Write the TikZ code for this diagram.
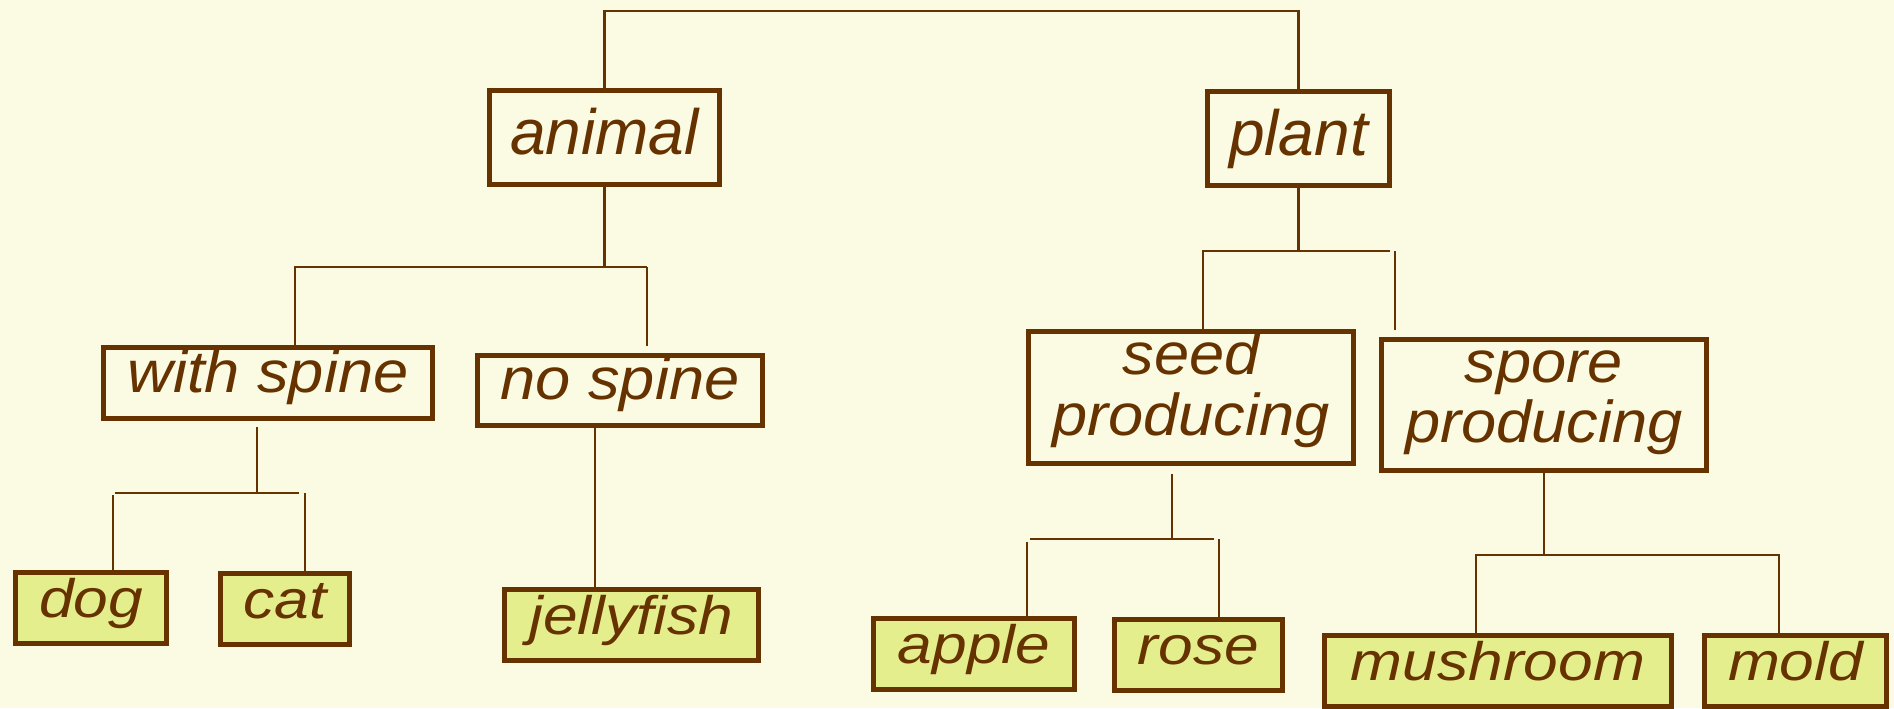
\documentclass[tikz,border=0pt]{standalone}
\usepackage{fontspec}
\setmainfont{Liberation Sans}
\newfontfamily\groupfont[FakeStretch=1.07]{Liberation Sans}
\newfontfamily\leaffont[FakeStretch=1.15]{Liberation Sans}
\usepackage{xcolor}
\usepackage{tikz}
\usetikzlibrary{positioning, calc}
\definecolor{treebrown}{RGB}{102, 51, 0}
\definecolor{treecream}{RGB}{250, 251, 226}
\definecolor{leafgreen}{RGB}{229, 238, 140}

\begin{document}
\begin{tikzpicture}[
    x=0.01cm, y=-0.01cm,
    group/.style={rectangle, draw=treebrown, line width=1.4pt, fill=treecream, inner sep=0pt, align=center, text=treebrown, text height=0.44cm, text depth=0.26cm, font=\groupfont\fontsize{16.8}{17.1}\selectfont\itshape},
    top/.style={group, minimum height=0.94cm, text height=0.5cm, text depth=0.17cm, font=\fontsize{18.2}{18}\selectfont\itshape},
    twoline/.style={group, minimum width=3.25cm, text height=0.98cm, text depth=0.23cm},
    leaf/.style={group, fill=leafgreen, minimum height=0.71cm, font=\leaffont\fontsize{15.4}{16}\selectfont\itshape},
    link/.style={draw=treebrown, line width=0.6pt}
]

% Background
\useasboundingbox (0,0) rectangle (1894,708);
\fill[treecream] (0,0) rectangle (1894,708);

% Kingdoms
\node[top, minimum width=2.30cm] (animal) at (604.5,137.5) {animal};
\node[top, minimum width=1.82cm] (plant) at (1298.5,138.5) {plant};

% Groups
\node[group, minimum width=3.29cm, minimum height=0.71cm] (withspine) at (268,383) {with spine};
\node[group, minimum width=2.85cm, minimum height=0.70cm] (nospine) at (620,390.5) {no spine};
\node[twoline, minimum height=1.32cm] (seed) at (1191,397.5) {seed\\producing};
\node[twoline, minimum height=1.31cm] (spore) at (1544,405) {spore\\producing};

% Examples
\node[leaf, minimum width=1.51cm] (dog) at (91,608) {dog};
\node[leaf, minimum width=1.29cm] (cat) at (285,609) {cat};
\node[leaf, minimum width=2.54cm] (jellyfish) at (631.5,625) {jellyfish};
\node[leaf, minimum width=2.01cm] (apple) at (974,654) {apple};
\node[leaf, minimum width=1.68cm] (rose) at (1198.5,655) {rose};
\node[leaf, minimum width=3.47cm] (mushroom) at (1498,671) {mushroom};
\node[leaf, minimum width=1.82cm] (mold) at (1795.5,671) {mold};

% Lines
\draw[link] (animal.north) -- ++(0,-77) -| (plant.north);

\draw[link] (animal.south) -- ++(0,80) coordinate (abar) -| ([xshift=0.27cm]withspine.north);
\draw[link] (abar) -- ++(42,0);
\draw[link] ([xshift=0.27cm,yshift=0.07cm]nospine.north) -- ++(0,-79);

\draw[link] ([xshift=-0.11cm,yshift=-0.06cm]withspine.south) -- ++(0,66) coordinate (wbar);
\draw[link] (wbar) ++(-142,0) -- ++(184,0);
\draw[link] ([xshift=0.22cm]dog.north) -- ++(0,-75);
\draw[link] ([xshift=0.20cm]cat.north) -- ++(0,-78);

\draw[link] ([xshift=-0.25cm]nospine.south) -- ([xshift=-0.25cm]nospine.south |- jellyfish.north);

\draw[link] (plant.south) -- ++(0,63) -| ([xshift=0.12cm]seed.north);
\draw[link] (plant.south) ++(0,63) -- ++(91,0);
\draw[link] ([xshift=0.16cm,yshift=0.07cm]spore.north west) -- ++(0,-79);

\draw[link] ([xshift=-0.19cm,yshift=-0.08cm]seed.south) -- ++(0,65) coordinate (sbar);
\draw[link] (sbar) ++(-142,0) -- ++(184,0);
\draw[link] ([xshift=0.53cm]apple.north) -- ++(0,-74);
\draw[link] ([xshift=0.205cm]rose.north) -- ++(0,-78);

\draw[link] (spore.south) -- ++(0,82) -| ([xshift=-0.165cm]mold.north);
\draw[link] (spore.south) ++(0,82) -| ([xshift=-0.22cm]mushroom.north);

\end{tikzpicture}
\end{document}
